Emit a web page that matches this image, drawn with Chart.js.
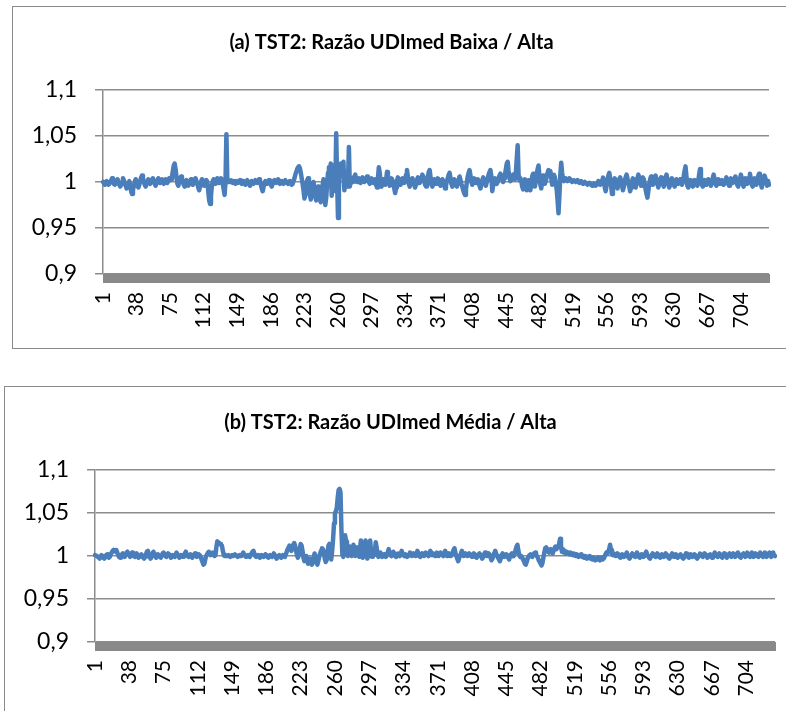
<!DOCTYPE html>
<html>
<head>
<meta charset="utf-8">
<script src="https://cdn.jsdelivr.net/npm/chart.js@4.4.1/dist/chart.umd.min.js"></script>
<style>
    html, body { margin: 0; padding: 0; background: #fff; }
    body { width: 786px; height: 711px; overflow: hidden; position: relative; }
    .box { position: absolute; box-sizing: border-box; border: 1.5px solid #8a8a8a; background: #fff; }
    #box-a { left: 12px; top: 6px; width: 800px; height: 343px; }
    #box-b { left: 4px; top: 386px; width: 800px; height: 400px; }
    canvas { position: absolute; }
    #chart-a { left: 14px; top: 8px; }
    #chart-b { left: 6px; top: 387px; }
</style>
</head>
<body>
<div class="box" id="box-a"></div>
<div class="box" id="box-b"></div>
<canvas id="chart-a" width="772" height="340"></canvas>
<canvas id="chart-b" width="780" height="340"></canvas>
<script>
// observation numbers on the x axis (1..735) and the ones Excel printed
const nObs = 735;
const obsLabels = Array.from({ length: nObs }, (_, i) => String(i + 1));
const shownTicks = ['1', '38', '75', '112', '149', '186', '223', '260', '297', '334', '371',
    '408', '445', '482', '519', '556', '593', '630', '667', '704'];

const yTicks = { min: 0.9, max: 1.1, step: 0.05 };

const titleA = '(a) TST2: Razão UDImed Baixa / Alta';
const titleB = '(b) TST2: Razão UDImed Média / Alta';

// razão baixa / alta
const ratioBaixa = [
    1.000, 0.999, 0.997, 0.998, 1.001, 0.999, 0.997, 0.998, 1.000, 1.002,
    1.004, 1.001, 0.998, 0.997, 0.999, 1.001, 1.003, 1.000, 0.997, 0.995,
    0.997, 1.000, 1.004, 1.002, 0.999, 0.996, 0.993, 0.995, 0.998, 1.001,
    0.996, 0.990, 0.987, 0.991, 0.996, 1.000, 1.003, 1.000, 0.996, 0.994,
    0.997, 1.001, 1.005, 1.007, 1.004, 1.000, 0.997, 0.995, 0.998, 1.001,
    1.003, 1.001, 0.998, 1.000, 1.002, 1.004, 1.001, 0.998, 0.996, 0.999,
    1.002, 1.004, 1.001, 0.999, 1.001, 1.003, 1.000, 0.998, 1.001, 1.003,
    1.001, 0.999, 1.002, 1.004, 1.002, 1.003, 1.006, 1.012, 1.018, 1.020,
    1.014, 1.005, 0.998, 0.996, 1.000, 1.003, 1.006, 1.004, 1.000, 0.997,
    0.995, 0.999, 1.002, 1.000, 0.996, 0.998, 1.001, 1.003, 1.000, 0.997,
    0.999, 1.002, 1.004, 1.001, 0.998, 0.994, 0.991, 0.996, 1.000, 1.003,
    1.002, 0.999, 0.996, 0.999, 1.002, 1.000, 0.990, 0.980, 0.976, 0.985,
    0.996, 1.001, 1.003, 1.000, 0.998, 1.002, 1.004, 1.001, 0.999, 1.002,
    1.004, 1.001, 0.998, 0.992, 0.986, 1.000, 1.052, 1.001, 1.000, 1.001,
    1.000, 1.002, 1.000, 0.999, 1.001, 1.000, 0.998, 1.001, 1.000, 0.999,
    1.001, 1.002, 0.999, 0.998, 1.000, 1.001, 0.999, 0.997, 1.000, 1.002,
    1.000, 0.998, 0.996, 0.999, 1.001, 1.000, 0.998, 1.000, 1.002, 1.000,
    0.999, 1.001, 1.003, 1.000, 0.997, 0.993, 0.990, 0.995, 0.999, 1.001,
    1.000, 0.998, 1.000, 1.002, 1.000, 0.997, 0.995, 0.998, 1.001, 1.002,
    1.000, 0.999, 1.001, 1.003, 1.000, 0.998, 0.999, 1.001, 1.000, 0.998,
    1.000, 1.002, 1.000, 0.999, 0.998, 1.000, 1.001, 0.999, 0.997, 0.998,
    1.001, 1.004, 1.008, 1.011, 1.014, 1.016, 1.017, 1.015, 1.010, 1.004,
    0.998, 0.991, 0.982, 0.986, 0.995, 1.002, 1.004, 0.997, 0.986, 0.981,
    0.988, 0.996, 1.000, 0.993, 0.984, 0.980, 0.987, 0.995, 0.990, 0.982,
    0.978, 0.985, 0.996, 1.003, 0.992, 0.975, 0.983, 0.998, 1.010, 1.016,
    1.008, 1.020, 0.985, 1.012, 1.018, 1.005, 0.990, 1.053, 1.002, 0.961,
    0.992, 1.016, 1.020, 1.012, 1.019, 1.022, 0.991, 1.010, 1.002, 0.995,
    1.000, 1.038, 0.995, 1.000, 1.004, 1.002, 1.000, 1.006, 1.008, 1.003,
    1.000, 1.002, 1.004, 1.001, 0.999, 1.002, 1.005, 1.003, 1.000, 1.001,
    1.004, 1.006, 1.003, 1.000, 0.998, 1.001, 1.004, 1.002, 0.999, 1.000,
    1.003, 0.997, 0.994, 1.004, 1.016, 1.010, 0.998, 0.995, 1.000, 1.003,
    1.001, 0.997, 1.002, 1.011, 1.007, 0.999, 0.996, 1.000, 1.004, 1.002,
    0.998, 0.993, 0.988, 0.994, 1.001, 1.005, 1.003, 1.000, 0.997, 1.001,
    1.004, 1.002, 0.999, 1.003, 1.008, 1.013, 1.006, 0.998, 0.995, 0.999,
    1.002, 1.004, 1.001, 0.997, 0.994, 0.998, 1.002, 1.005, 1.002, 0.999,
    1.001, 1.004, 1.008, 1.006, 1.001, 0.997, 0.995, 0.999, 1.005, 1.011,
    1.013, 1.005, 0.997, 0.995, 0.999, 1.003, 1.001, 0.998, 1.000, 1.004,
    1.002, 0.998, 0.996, 1.000, 1.003, 1.001, 0.997, 0.993, 0.996, 1.001,
    1.004, 1.008, 1.010, 1.004, 0.998, 0.995, 0.999, 1.003, 1.001, 0.997,
    0.995, 0.999, 1.003, 1.006, 1.002, 0.998, 0.995, 0.991, 0.988, 0.986,
    0.992, 1.000, 1.006, 1.010, 1.013, 1.007, 1.000, 0.997, 1.001, 1.004,
    1.002, 0.999, 1.001, 1.003, 1.000, 0.996, 0.993, 0.997, 1.002, 1.005,
    1.003, 0.999, 0.996, 1.000, 1.004, 1.008, 1.011, 1.013, 1.006, 0.990,
    0.996, 1.002, 1.004, 1.001, 0.998, 1.000, 1.004, 1.007, 1.009, 1.006,
    1.003, 1.000, 1.004, 1.008, 1.014, 1.020, 1.022, 1.012, 1.004, 1.001,
    1.003, 1.006, 1.008, 1.005, 1.003, 1.010, 1.025, 1.040, 1.008, 1.002,
    1.004, 1.001, 0.995, 0.992, 0.997, 1.003, 1.000, 0.991, 0.995, 1.002,
    0.996, 0.991, 0.999, 1.006, 1.009, 1.002, 0.995, 1.001, 1.008, 1.014,
    1.018, 1.006, 0.997, 0.993, 1.000, 1.007, 1.004, 0.998, 1.001, 1.006,
    1.010, 1.013, 1.010, 1.012, 1.004, 0.997, 1.002, 1.008, 1.005, 0.999,
    0.992, 0.980, 0.966, 0.985, 1.008, 1.021, 1.010, 1.003, 1.001, 1.002,
    1.004, 1.003, 1.001, 1.002, 1.004, 1.003, 1.002, 1.000, 1.001, 1.002,
    1.001, 1.000, 1.001, 1.002, 1.000, 0.999, 1.000, 1.001, 0.999, 0.998,
    0.999, 1.000, 0.999, 0.998, 0.997, 0.998, 0.999, 0.998, 0.997, 0.996,
    0.997, 0.998, 0.997, 0.996, 0.997, 0.999, 1.001, 0.999, 0.997, 0.998,
    1.002, 1.005, 1.001, 0.994, 0.990, 0.996, 1.003, 1.007, 1.010, 1.004,
    0.996, 0.987, 0.993, 1.000, 1.004, 1.001, 0.997, 0.993, 0.998, 1.003,
    1.005, 1.001, 0.996, 0.991, 0.995, 1.001, 1.005, 1.008, 1.004, 0.999,
    0.995, 0.990, 0.994, 1.000, 1.004, 1.002, 0.998, 0.994, 0.999, 1.004,
    1.008, 1.004, 0.999, 0.996, 1.000, 1.005, 1.003, 0.998, 0.992, 0.987,
    0.983, 0.990, 0.998, 1.003, 1.006, 1.002, 0.997, 1.000, 1.004, 1.007,
    1.003, 0.998, 0.994, 0.998, 1.002, 1.005, 1.002, 0.998, 0.995, 0.999,
    1.003, 1.008, 1.004, 0.998, 0.994, 0.997, 1.001, 1.004, 1.001, 0.997,
    0.995, 0.999, 1.003, 1.001, 0.998, 1.000, 1.003, 1.001, 0.997, 1.000,
    1.006, 1.012, 1.017, 1.006, 0.996, 0.994, 0.999, 1.002, 1.000, 0.997,
    0.995, 0.999, 1.002, 1.001, 0.998, 0.996, 1.001, 1.008, 1.014, 1.005,
    0.997, 0.995, 0.999, 1.002, 1.000, 0.997, 1.000, 1.003, 1.001, 0.998,
    0.996, 1.000, 1.004, 1.008, 1.003, 0.998, 0.996, 1.000, 1.003, 1.001,
    0.998, 0.999, 1.002, 1.000, 0.997, 0.999, 1.002, 1.005, 1.002, 0.998,
    0.996, 1.000, 1.004, 1.002, 0.999, 1.001, 1.004, 1.006, 1.002, 0.997,
    0.995, 0.999, 1.003, 1.008, 1.004, 0.998, 0.995, 0.999, 1.004, 1.002,
    0.998, 1.001, 1.005, 1.009, 1.003, 0.997, 0.995, 1.000, 1.004, 1.001,
    0.997, 1.000, 1.006, 1.009, 1.004, 0.998, 0.994, 0.999, 1.003, 1.007,
    1.004, 0.999, 0.996, 1.001, 0.997
];

// razão média / alta
const ratioMedia = [
    1.001, 1.001, 1.000, 0.999, 0.998, 0.997, 0.999, 1.001, 1.000, 0.998,
    0.997, 0.999, 1.001, 1.002, 1.000, 0.998, 0.999, 1.002, 1.004, 1.006,
    1.007, 1.006, 1.005, 1.007, 1.004, 1.001, 0.999, 0.998, 1.000, 1.002,
    1.003, 1.001, 0.999, 1.001, 1.004, 1.005, 1.003, 1.001, 0.999, 1.002,
    1.004, 1.002, 1.000, 0.999, 1.001, 1.003, 1.000, 0.998, 0.999, 1.001,
    1.002, 1.000, 0.998, 0.997, 0.999, 1.002, 1.005, 1.006, 1.003, 0.999,
    0.997, 0.999, 1.002, 1.005, 1.003, 1.000, 0.998, 1.000, 1.002, 1.001,
    0.999, 0.998, 1.000, 1.003, 1.004, 1.002, 1.000, 0.999, 1.001, 1.003,
    1.002, 1.000, 0.998, 0.999, 1.001, 1.000, 0.999, 1.001, 1.004, 1.002,
    1.000, 0.998, 0.999, 1.001, 1.000, 0.999, 1.001, 1.003, 1.005, 1.002,
    1.000, 0.999, 1.001, 1.002, 1.000, 0.998, 1.000, 1.002, 1.003, 1.001,
    0.999, 1.000, 1.002, 1.001, 0.999, 0.996, 0.993, 0.990, 0.991, 0.996,
    1.000, 1.002, 1.004, 1.005, 1.003, 1.001, 1.003, 1.004, 1.002, 1.000,
    1.001, 1.010, 1.017, 1.016, 1.015, 1.014, 1.013, 1.012, 1.006, 1.001,
    1.000, 1.001, 1.000, 1.000, 1.001, 1.000, 0.999, 1.000, 1.001, 1.000,
    1.000, 1.002, 1.001, 1.000, 0.999, 1.000, 1.001, 1.000, 1.000, 1.002,
    1.004, 1.002, 1.000, 0.999, 1.000, 1.001, 1.000, 0.999, 1.001, 1.003,
    1.005, 1.006, 1.003, 1.000, 0.999, 1.000, 1.001, 1.000, 0.998, 0.999,
    1.001, 1.000, 0.999, 1.000, 1.002, 1.001, 0.999, 0.998, 1.000, 1.001,
    1.000, 0.999, 1.000, 1.003, 1.001, 0.999, 0.997, 0.998, 1.000, 1.001,
    1.000, 0.998, 0.999, 1.001, 1.000, 0.999, 1.002, 1.005, 1.008, 1.010,
    1.012, 1.010, 1.006, 1.009, 1.013, 1.015, 1.012, 1.006, 1.001, 0.998,
    1.001, 1.008, 1.014, 1.012, 1.006, 0.998, 0.994, 0.996, 1.000, 0.995,
    0.991, 0.993, 0.997, 0.993, 0.990, 0.992, 0.998, 1.003, 0.999, 0.993,
    0.990, 0.994, 0.999, 1.003, 1.006, 1.009, 1.008, 1.004, 0.997, 0.993,
    0.995, 1.004, 1.012, 1.014, 1.008, 0.996, 1.006, 1.020, 1.038, 1.050,
    1.052, 1.056, 1.068, 1.077, 1.078, 1.074, 1.030, 1.002, 0.999, 1.010,
    1.024, 1.017, 1.003, 1.000, 1.004, 1.011, 1.004, 1.000, 1.002, 1.013,
    1.007, 1.000, 1.004, 1.010, 1.002, 0.999, 1.008, 1.018, 1.006, 0.998,
    1.003, 1.012, 1.018, 1.004, 0.997, 1.001, 1.009, 1.018, 1.005, 0.999,
    1.002, 1.001, 1.003, 1.016, 1.010, 1.001, 0.999, 1.002, 1.004, 1.001,
    0.999, 1.000, 1.002, 1.001, 0.999, 1.001, 1.004, 1.008, 1.004, 1.001,
    1.000, 1.002, 1.005, 1.003, 1.000, 0.999, 1.001, 1.003, 1.001, 1.000,
    1.002, 1.006, 1.003, 1.001, 1.000, 1.002, 1.001, 0.999, 1.000, 1.002,
    1.004, 1.002, 1.000, 1.001, 1.003, 1.002, 1.000, 1.001, 1.006, 1.003,
    1.000, 0.999, 1.001, 1.003, 1.002, 1.000, 1.001, 1.004, 1.003, 1.001,
    1.000, 1.003, 1.006, 1.003, 1.001, 1.003, 1.002, 1.000, 1.001, 1.004,
    1.002, 1.000, 1.002, 1.004, 1.002, 1.001, 1.000, 1.003, 1.006, 1.002,
    1.000, 1.001, 1.003, 1.002, 1.000, 1.001, 1.004, 1.007, 1.009, 1.004,
    1.000, 0.997, 0.994, 0.997, 1.001, 1.003, 1.006, 1.003, 1.000, 1.001,
    1.003, 1.002, 1.000, 1.001, 1.003, 1.002, 1.000, 0.999, 1.001, 1.003,
    1.002, 1.000, 0.998, 1.000, 1.002, 1.003, 1.001, 0.999, 0.997, 0.999,
    1.002, 1.004, 1.002, 1.000, 1.001, 1.003, 1.001, 0.998, 0.995, 0.997,
    1.001, 1.003, 1.006, 1.003, 1.000, 0.998, 0.996, 0.994, 0.997, 1.001,
    1.003, 1.001, 0.999, 1.000, 1.002, 1.001, 0.998, 0.996, 0.999, 1.002,
    1.003, 1.001, 1.000, 1.003, 1.007, 1.011, 1.013, 1.006, 1.001, 0.999,
    1.000, 0.998, 0.996, 0.994, 0.991, 0.990, 0.993, 0.997, 0.999, 1.001,
    1.002, 1.000, 0.999, 1.001, 1.003, 1.004, 1.002, 1.000, 0.998, 0.995,
    0.993, 0.991, 0.989, 0.992, 0.998, 1.004, 1.009, 1.010, 1.008, 1.005,
    1.004, 1.006, 1.008, 1.005, 1.003, 1.006, 1.009, 1.011, 1.008, 1.010,
    1.010, 1.014, 1.020, 1.012, 1.005, 1.008, 1.004, 1.006, 1.003, 1.005,
    1.003, 1.004, 1.002, 1.004, 1.002, 1.003, 1.001, 1.003, 1.002, 1.000,
    1.002, 1.001, 0.999, 1.001, 1.000, 1.002, 0.999, 1.000, 0.998, 1.000,
    0.999, 0.997, 0.999, 0.998, 1.000, 0.997, 0.998, 0.996, 0.998, 0.997,
    0.995, 0.997, 0.996, 0.998, 0.996, 0.995, 0.997, 0.998, 0.996, 0.997,
    0.999, 1.002, 1.004, 1.003, 1.005, 1.008, 1.013, 1.007, 1.002, 1.001,
    1.003, 1.002, 1.000, 1.001, 1.003, 1.002, 0.999, 0.998, 1.000, 1.002,
    1.001, 0.999, 1.000, 1.002, 1.004, 1.001, 0.998, 0.997, 0.999, 1.001,
    1.003, 1.002, 1.000, 0.999, 1.001, 1.004, 1.002, 0.999, 0.998, 1.000,
    1.002, 1.001, 0.999, 1.000, 1.003, 1.005, 1.002, 1.000, 0.998, 0.997,
    0.999, 1.001, 1.003, 1.002, 1.000, 0.999, 1.001, 1.003, 1.001, 0.999,
    0.998, 1.000, 1.002, 1.001, 0.999, 1.000, 1.003, 1.002, 1.000, 0.998,
    0.997, 0.999, 1.001, 1.003, 1.001, 0.999, 1.000, 1.002, 1.000, 0.998,
    0.999, 1.001, 1.002, 1.000, 0.998, 0.997, 0.999, 1.001, 1.003, 1.001,
    0.999, 0.998, 1.000, 1.002, 1.001, 0.999, 1.000, 1.002, 1.001, 0.998,
    0.997, 0.999, 1.001, 1.003, 1.002, 1.000, 0.999, 1.001, 1.003, 1.002,
    1.000, 0.998, 0.999, 1.001, 1.002, 1.000, 0.998, 0.999, 1.002, 1.004,
    1.002, 1.000, 0.999, 1.001, 1.003, 1.001, 0.999, 0.998, 1.000, 1.003,
    1.002, 1.000, 0.998, 1.000, 1.002, 1.003, 1.001, 0.999, 1.001, 1.003,
    1.001, 0.999, 1.000, 1.003, 1.004, 1.002, 0.999, 0.998, 1.000, 1.002,
    1.003, 1.001, 0.999, 1.001, 1.004, 1.002, 1.000, 0.999, 1.002, 1.004,
    1.001, 0.999, 1.001, 1.003, 1.002, 1.000, 0.999, 1.002, 1.004, 1.002,
    1.000, 0.999, 1.002, 1.004, 1.001, 0.999, 1.001, 1.003, 1.004, 1.001,
    0.999, 1.002, 1.004, 1.001, 1.000
];

const lineColor = '#4a7ebb';
const gridColor = '#8c8c8c';
const floorColor = '#898989';

Chart.defaults.font.family = 'Lato, "Open Sans", sans-serif';
Chart.defaults.color = '#000';

// thick grey band under the plot (the chart "floor")
const floorBar = {
    id: 'floorBar',
    beforeDatasetsDraw(chart, args, opts) {
        const { ctx, chartArea } = chart;
        ctx.save();
        ctx.fillStyle = floorColor;
        ctx.fillRect(chartArea.left, chartArea.bottom, chartArea.right - chartArea.left + 1, opts.height);
        ctx.restore();
    }
};

function formatTick(v) {
    return String(Math.round(v * 100) / 100).replace('.', ',');
}

function makeChart(canvasId, title, values, box) {
    return new Chart(document.getElementById(canvasId), {
        type: 'line',
        data: {
            labels: obsLabels,
            datasets: [{
                data: values,
                borderColor: lineColor,
                borderWidth: 4.5,
                borderJoinStyle: 'round',
                borderCapStyle: 'round',
                pointRadius: 0,
                tension: 0,
                fill: false
            }]
        },
        options: {
            responsive: false,
            animation: false,
            devicePixelRatio: 1,
            layout: { padding: { left: 0, right: box.right, top: 0, bottom: 0 } },
            plugins: {
                legend: { display: false },
                tooltip: { enabled: false },
                title: {
                    display: true,
                    text: title,
                    font: { size: 20, weight: 'bold' },
                    color: '#000',
                    padding: { top: box.titleTop, bottom: box.titleBottom }
                },
                floorBar: { height: 9 }
            },
            scales: {
                x: {
                    grid: { display: false, drawTicks: false },
                    border: { display: false },
                    ticks: {
                        autoSkip: false,
                        minRotation: 90,
                        maxRotation: 90,
                        padding: 18,
                        font: { size: 21 },
                        callback: function (value) {
                            const label = this.getLabelForValue(value);
                            return shownTicks.includes(label) ? label : '';
                        }
                    },
                    afterFit(scale) {
                        scale.height = box.xHeight;
                        scale.paddingLeft = 0;
                        scale.paddingRight = 0;
                    }
                },
                y: {
                    min: yTicks.min,
                    max: yTicks.max,
                    grid: { color: gridColor, lineWidth: 1.5, tickLength: 8 },
                    border: { display: true, color: gridColor, width: 1.5 },
                    ticks: {
                        stepSize: yTicks.step,
                        padding: 18,
                        font: { size: 23 },
                        callback: formatTick
                    },
                    afterFit(scale) {
                        scale.width = box.yWidth;
                    }
                }
            }
        },
        plugins: [floorBar]
    });
}

makeChart('chart-a', titleA, ratioBaixa, { right: 17, titleTop: 23, titleBottom: 35, xHeight: 74, yWidth: 89 });
makeChart('chart-b', titleB, ratioMedia, { right: 11, titleTop: 24, titleBottom: 35, xHeight: 85, yWidth: 89 });
</script>
</body>
</html>
